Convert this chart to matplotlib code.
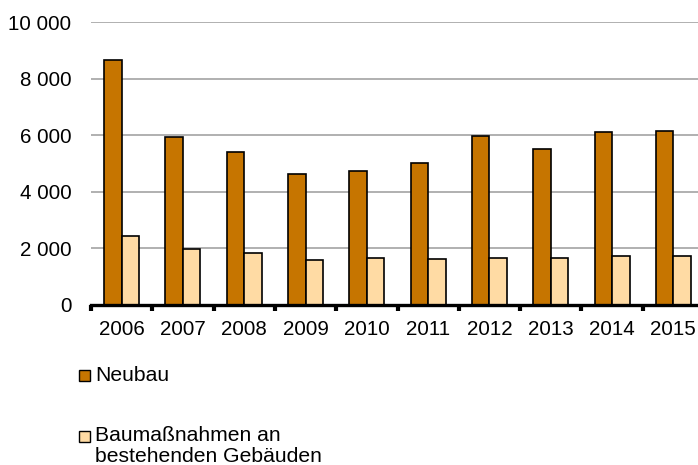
import matplotlib
matplotlib.use("Agg")
import matplotlib.pyplot as plt
import numpy as np
from matplotlib.patches import Rectangle

plt.rcParams['font.family'] = ['Liberation Sans', 'DejaVu Sans']

years = ['2006', '2007', '2008', '2009', '2010', '2011', '2012', '2013', '2014', '2015']
neubau = [8640, 5930, 5400, 4620, 4720, 5030, 5980, 5520, 6130, 6160]
bestand = [2450, 1980, 1820, 1580, 1650, 1610, 1670, 1660, 1730, 1735]
yticks = [0, 2000, 4000, 6000, 8000, 10000]
ytick_labels = ['0', '2 000', '4 000', '6 000', '8 000', '10 000']
labels = ['Neubau', 'Baumaßnahmen an\nbestehenden Gebäuden']
colors = ['#C67500', '#FFDBA4']

W, H = 698, 465
fig = plt.figure(figsize=(W / 100, H / 100), dpi=100)
ax = fig.add_axes([91 / W, 1 - 305 / H, 613 / W, 283 / H])

x = np.arange(len(years))
bw = 0.285
ax.bar(x - bw / 2, neubau, bw, color=colors[0], edgecolor='black', linewidth=1.2, zorder=3)
ax.bar(x + bw / 2, bestand, bw, color=colors[1], edgecolor='black', linewidth=1.2, zorder=3)

ax.set_xlim(-0.5, len(years) - 0.5)
ax.set_ylim(0, 10000)
ax.set_yticks(yticks)
ax.set_yticklabels(ytick_labels, fontsize=14.8)
ax.tick_params(axis='y', length=0, pad=14)
ax.yaxis.grid(True, color='#aaaaaa', linewidth=1.3, zorder=0)
ax.set_axisbelow(True)

ax.set_xticks(x)
ax.set_xticklabels(years, fontsize=14.8)
ax.tick_params(axis='x', which='major', length=0, pad=11)
ax.set_xticks(np.arange(-0.5, len(years)), minor=True)
ax.tick_params(axis='x', which='minor', length=4.5, width=3, direction='out', color='black')

for s in ['top', 'right', 'left']:
    ax.spines[s].set_visible(False)
ax.spines['bottom'].set_linewidth(2.4)
ax.spines['bottom'].set_zorder(5)

# legend (manual)
sq = 11
entries = [(375, 381, labels[0], colors[0]), (436, 441, labels[1], colors[1])]
for yc, base, lab, col in entries:
    fig.patches.append(Rectangle((79 / W, 1 - (yc + sq / 2) / H), sq / W, sq / H,
                                 transform=fig.transFigure, facecolor=col,
                                 edgecolor='black', linewidth=1.0))
    for k, line in enumerate(lab.split('\n')):
        fig.text(95 / W, 1 - (base + 21 * k) / H, line, fontsize=15.2,
                 va='baseline', ha='left')

fig.savefig('out.png', dpi=100)
